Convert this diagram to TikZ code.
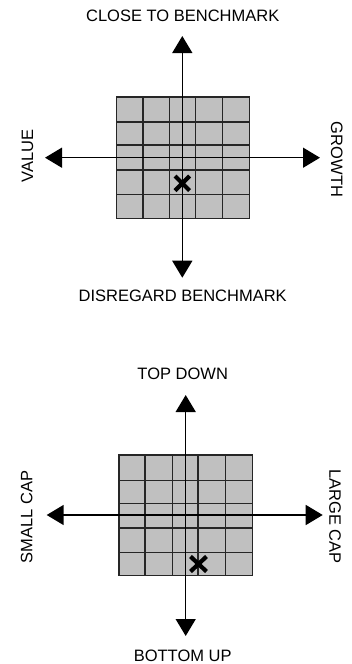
\documentclass[tikz,border=0pt]{standalone}
\usepackage{fontspec}
\setmainfont{Liberation Sans}
\usetikzlibrary{arrows.meta}
\definecolor{cellgray}{HTML}{C0C0C0}
\definecolor{linegray}{HTML}{262626}
\begin{document}
\begin{tikzpicture}[x=1pt,y=-1pt,
  axis/.style={line width=1.5pt,{Triangle[length=17pt,width=20pt]}-{Triangle[length=17pt,width=20pt]}},
  gridline/.style={draw=linegray,line width=1.4pt},
  lbl/.style={font=\fontsize{16.5}{18}\selectfont,inner sep=0pt},
  cross/.style={line width=4.2pt}]
\useasboundingbox (0,0) rectangle (351,664);

% ---------- top diagram ----------
\filldraw[fill=cellgray,gridline] (116.7,97) rectangle (249.3,218.3);
\foreach \x in {143,169.7,195.3,222.7} \draw[gridline] (\x,97) -- (\x,218.3);
\foreach \y in {122,145,170,194.7} \draw[gridline] (116.7,\y) -- (249.3,\y);
\coordinate (aT) at (182.3,36);
\coordinate (aB) at (182.3,277.7);
\coordinate (aL) at (45,157.7);
\coordinate (aR) at (320,157.7);
\draw[axis] (aT) -- (aB);
\draw[axis] (aL) -- (aR);
\draw[cross] (175,176) -- (189.6,190.6) (175,190.6) -- (189.6,176);
\node[lbl] (t1) at (182.7,15.5) {CLOSE TO BENCHMARK};
\node[lbl] (b1) at (182.7,296) {DISREGARD BENCHMARK};
\node[lbl,rotate=90] (l1) at (27.5,155.7) {VALUE};
\node[lbl,rotate=-90] (r1) at (336.7,159.5) {GROWTH};

% ---------- bottom diagram ----------
\filldraw[fill=cellgray,gridline] (119,455) rectangle (252.3,575.7);
\foreach \x in {145,172.3,198,225.7} \draw[gridline] (\x,455) -- (\x,575.7);
\foreach \y in {480.3,503.3,528,552.3} \draw[gridline] (119,\y) -- (252.3,\y);
\coordinate (cT) at (185.7,395);
\coordinate (cB) at (185.7,636);
\coordinate (cL) at (46.7,515);
\coordinate (cR) at (322.7,515);
\draw[axis] (cT) -- (cB);
\draw[axis] (cL) -- (cR);
\draw[cross] (190.5,556.5) -- (206.5,571.5) (190.5,571.5) -- (206.5,556.5);
\node[lbl] (t2) at (182.7,374.3) {TOP DOWN};
\node[lbl] (b2) at (182.7,656) {BOTTOM UP};
\node[lbl,rotate=90] (l2) at (26.7,516.7) {SMALL CAP};
\node[lbl,rotate=-90] (r2) at (335,516.7) {LARGE CAP};
\end{tikzpicture}
\end{document}
